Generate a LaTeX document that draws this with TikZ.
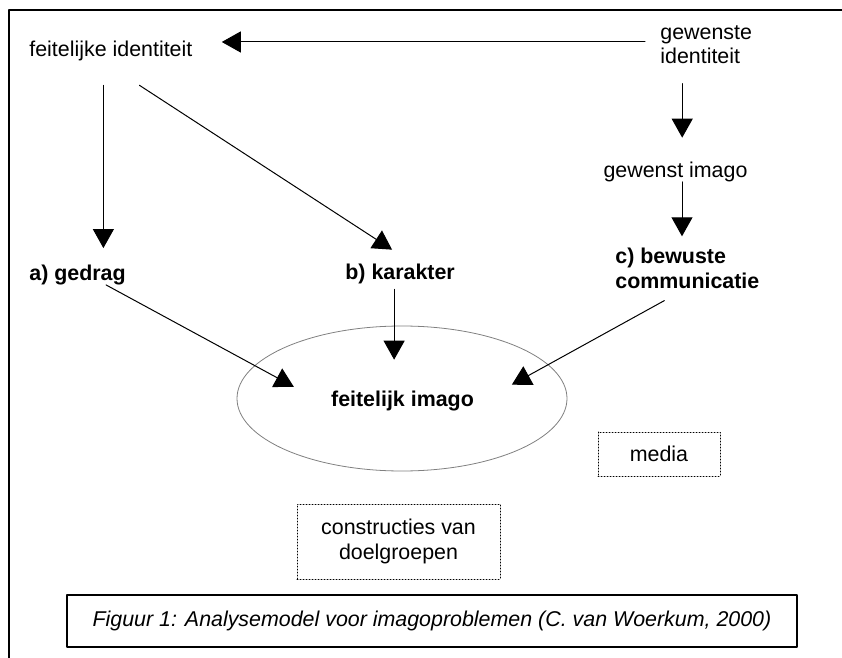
\documentclass[tikz,border=0pt]{standalone}
\usepackage{fontspec}
\setmainfont{Liberation Sans}
\usetikzlibrary{arrows.meta}
\usetikzlibrary{positioning}
\usetikzlibrary{shapes.geometric}

\begin{document}
\begin{tikzpicture}[line cap=round,line join=round,>={Triangle[length=9.5pt,width=10.5pt]},x=0.5pt,y=-0.5pt,
  every node/.style={inner sep=0pt,font=\fontsize{10.7}{12.2}\selectfont},
  vet/.style={font=\fontsize{10.7}{12.2}\selectfont\bfseries},
  pijl/.style={->,line width=0.5pt},
  stippelbox/.style={draw,line width=0.5pt,dash pattern=on 0.5pt off 1pt,align=center}]
\useasboundingbox (0,0) rectangle (842,658);
\draw[line width=1pt] (9,658) -- (9,10) -- (842,10);
% teksten
\node[anchor=base west] (fid) at (29,57) {feitelijke identiteit};
\node[anchor=base west,align=left] (gid) at (660,64) {gewenste\\identiteit};
\node[anchor=base] (gim) at (675.5,177) {gewenst imago};
\node[vet,anchor=base west] (ged) at (29,280) {a) gedrag};
\node[vet,anchor=base west] (kar) at (345,279) {b) karakter};
\node[vet,anchor=base west,align=left] (com) at (615,288) {c) bewuste\\communicatie};
\node[draw=gray,ellipse,line width=0.4pt,minimum width=165pt,minimum height=72.5pt] (img) at (402,398.5) {};
\node[vet,anchor=base] (fimg) at (402.5,407) {feitelijk imago};
\node[stippelbox,minimum width=61pt,minimum height=22pt] (med) at (659,454) {media};
\node[stippelbox,minimum width=101.5pt,minimum height=37.5pt] (con) at (398.5,541.5) {constructies van\\doelgroepen};
\node[draw,line width=0.6pt,minimum width=365pt,minimum height=26pt,font=\fontsize{10.7}{12.2}\selectfont\itshape] (fig) at (432,621) {Figuur 1: Analysemodel voor imagoproblemen (C. van Woerkum, 2000)};
% pijlen
\coordinate (fidvoet) at ([xshift=-3.75pt]fid.south);
\draw[pijl,shorten <=7.5pt,shorten >=14.5pt] ([yshift=1.5pt]gid.west) -- ([yshift=1.5pt]gid.west -| fid.east);
\draw[pijl,shorten <=11.75pt,shorten >=8pt] (fidvoet) -- (fidvoet |- ged.north);
\draw[pijl,shorten <=21.5pt,shorten >=12.3pt] (fidvoet) -- ([xshift=6.3pt]kar.north);
\draw[pijl,shorten <=9.5pt,shorten >=11.7pt] ([xshift=-12pt]gid.south) -- ([xshift=-12pt]gid.south |- gim.north);
\draw[pijl,shorten >=5.7pt] ([xshift=3.25pt]gim.south) -- ([xshift=3.25pt]gim.south |- com.north);
\draw[pijl,shorten >=4.5pt] ([xshift=14.25pt]ged.south) -- ([xshift=-14.5pt]fimg.north west);
\draw[pijl,shorten <=2.75pt,shorten >=15.7pt] ([xshift=-3pt]kar.south) -- ([xshift=-3pt]kar.south |- fimg.north);
\draw[pijl,shorten >=6.6pt] ([xshift=-11.5pt,yshift=-6pt]com.south) -- ([xshift=13pt]fimg.north east);
\end{tikzpicture}
\end{document}
